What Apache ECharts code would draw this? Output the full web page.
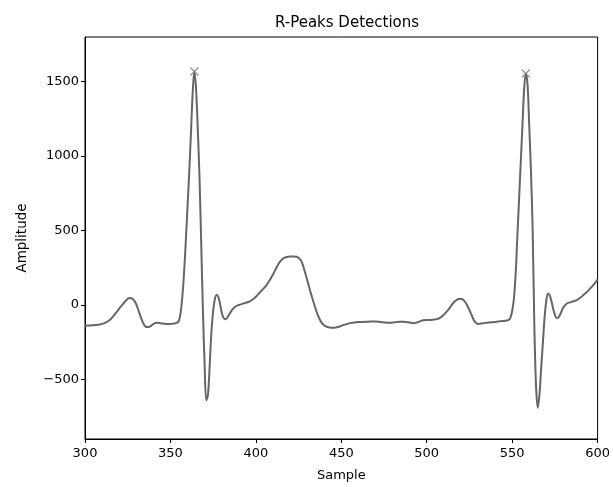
<!DOCTYPE html>
<html>
<head>
<meta charset="utf-8">
<script src="https://cdn.jsdelivr.net/npm/echarts@6/dist/echarts.min.js"></script>
<style>html,body{margin:0;padding:0;background:#fff}#c{width:613px;height:487px}</style>
</head>
<body>
<div id="c"></div>
<script>
var sampleX = [300,303,306,309,312,315,318,321,324,326,328,330,332,334,336,338,340,342,344,346,348,350,352,354,355,356,357,358,359,360,361,362,363,364,365,366,367,368,369,370,371,372,373,374,375,376,377,378,379,380,381,382,383,384,386,388,390,392,394,396,398,400,402,404,406,408,410,412,414,416,418,420,422,424,426,427,428,430,432,434,436,438,440,442,444,446,448,450,452,454,456,458,460,462,464,466,468,470,472,474,476,478,480,482,484,486,488,490,492,494,496,498,500,502,504,506,508,510,512,514,516,518,520,522,524,526,528,530,532,534,536,538,540,542,544,546,548,549,550,551,552,553,554,555,556,557,558,559,560,561,562,563,564,565,566,567,568,569,570,571,572,573,574,575,576,577,578,579,580,582,584,586,588,590,592,594,596,598,600];
var amplitude = [-138,-137,-135,-130,-118,-95,-55,-10,30,47,40,5,-60,-120,-148,-145,-128,-120,-122,-125,-127,-127,-125,-118,-105,-50,60,220,430,660,890,1150,1420,1568,1450,1180,860,420,-30,-400,-640,-600,-400,-180,-40,40,67,55,10,-50,-85,-95,-90,-70,-35,-10,0,8,15,22,35,55,80,105,130,165,205,250,290,312,322,326,326,324,305,285,250,170,85,10,-60,-110,-138,-148,-152,-152,-148,-140,-132,-125,-120,-117,-115,-115,-113,-112,-110,-110,-112,-116,-118,-120,-118,-115,-112,-112,-114,-118,-122,-118,-110,-103,-100,-100,-98,-95,-85,-65,-40,-10,20,38,42,28,-10,-60,-110,-127,-125,-120,-118,-116,-114,-110,-108,-106,-100,-85,-40,40,200,450,700,950,1200,1450,1555,1480,1200,900,500,-150,-550,-690,-600,-420,-250,-80,30,78,65,25,-25,-65,-88,-85,-65,-40,-15,10,18,25,35,50,70,90,115,140,170];
var peakX = [364, 558];
var peakY = [1568, 1555];
var yTicks = [-500, 0, 500, 1000, 1500];
var xTicks = [300, 350, 400, 450, 500, 550, 600];

var lineData = sampleX.map(function (x, i) { return [x, amplitude[i]]; });
var peakData = peakX.map(function (x, i) { return [x, peakY[i]]; });
var fmt = function (v) { return String(v).replace('-', '\u2212'); };
var font = 'DejaVu Sans';

var chart = echarts.init(document.getElementById('c'), null, { renderer: 'canvas' });
chart.setOption({
  animation: false,
  backgroundColor: '#fff',
  title: {
    text: 'R-Peaks Detections', left: 342, top: 11, textAlign: 'center',
    textStyle: { fontFamily: font, fontSize: 15, fontWeight: 'normal', color: '#000' }
  },
  grid: { left: 85, right: 13, top: 37, bottom: 46, show: true, borderColor: '#000', borderWidth: 1, backgroundColor: 'transparent' },
  xAxis: {
    type: 'value', min: 300, max: 600, interval: 50,
    name: 'Sample', nameLocation: 'middle', nameGap: 30,
    nameTextStyle: { fontFamily: font, fontSize: 13, color: '#000' },
    axisLine: { show: true, onZero: false, lineStyle: { color: '#000', width: 1 } },
    axisTick: { show: true, inside: false, length: 4, lineStyle: { color: '#000' }, customValues: xTicks },
    axisLabel: { fontFamily: font, fontSize: 13, color: '#000', margin: 8, customValues: xTicks, formatter: fmt },
    splitLine: { show: false }
  },
  yAxis: {
    type: 'value', min: -900, max: 1800,
    name: 'Amplitude', nameLocation: 'middle', nameGap: 56, nameRotate: 90,
    nameTextStyle: { fontFamily: font, fontSize: 13.5, color: '#000' },
    axisLine: { show: true, onZero: false, lineStyle: { color: '#000', width: 1 } },
    axisTick: { show: true, inside: false, length: 4, lineStyle: { color: '#000' }, customValues: yTicks },
    axisLabel: { fontFamily: font, fontSize: 13, color: '#000', margin: 6, customValues: yTicks, formatter: fmt },
    splitLine: { show: false }
  },
  series: [
    {
      type: 'line', data: lineData, showSymbol: false, smooth: 0.35,
      lineStyle: { color: '#666666', width: 2 }, z: 2
    },
    {
      type: 'scatter', data: peakData,
      symbol: 'path://M0,0L10,10M10,0L0,10', symbolSize: 8,
      itemStyle: { color: 'rgba(0,0,0,0)', borderColor: '#808080', borderWidth: 1.5 }, z: 3
    }
  ]
});
</script>
</body>
</html>
